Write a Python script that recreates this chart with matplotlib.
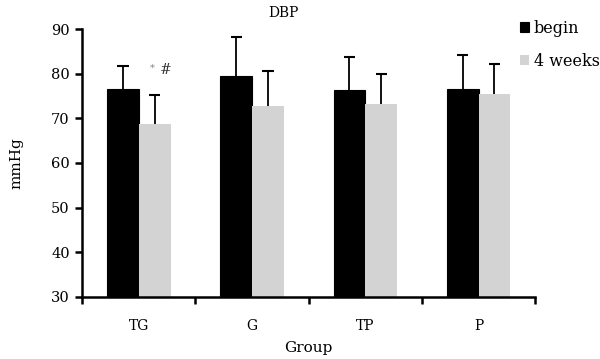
import matplotlib
matplotlib.use('Agg')
import matplotlib.pyplot as plt
import numpy as np

plt.rcParams['font.family'] = ['DejaVu Serif']

groups = ['TG', 'G', 'TP', 'P']
begin = [76.6, 79.6, 76.4, 76.5]
begin_err = [5.1, 8.7, 7.3, 7.6]
weeks4 = [68.8, 72.8, 73.2, 75.4]
weeks4_err = [6.5, 7.9, 6.8, 6.8]

fig = plt.figure(figsize=(6.0, 3.59), dpi=100)
ax = fig.add_axes([0.137, 0.173, 0.755, 0.746])

x = np.arange(len(groups))
w = 0.28
base = 30
cap = 0.05

# upper-only error bars (drawn behind bars)
for xs, vals, errs in [(x - w/2, begin, begin_err), (x + w/2, weeks4, weeks4_err)]:
    tops = np.array(vals) + np.array(errs)
    ax.vlines(xs, vals, tops, color='black', linewidth=1.3, zorder=1)
    ax.hlines(tops, xs - cap, xs + cap, color='black', linewidth=1.5, zorder=1)

ax.bar(x - w/2, np.array(begin) - base, w, bottom=base, color='black',
       edgecolor='black', linewidth=0.8, label='begin', zorder=2)
ax.bar(x + w/2, np.array(weeks4) - base, w, bottom=base, color='#d3d3d3',
       linewidth=0, label='4 weeks', zorder=2)

# significance marks over TG 4 weeks
ax.text(x[0] + w/2 - 0.02, 81.3, '*', fontsize=7, color='#888888',
        ha='center', va='center')
ax.text(x[0] + w/2 + 0.05, 80.8, '#', fontsize=10, color='#333333',
        ha='left', va='center')

ax.set_xlim(-0.5, 3.5)
ax.set_ylim(30, 90)
ax.set_yticks(range(30, 91, 10))
ax.set_xticks(x)
ax.set_xticklabels(groups)
ax.set_xticks(np.arange(-0.5, 4, 1), minor=True)
ax.tick_params(axis='x', which='major', length=0, pad=16, labelsize=10)
ax.tick_params(axis='x', which='minor', length=5, width=1.8, direction='out')
ax.tick_params(axis='y', length=5, width=1.8, direction='out', labelsize=10.5, pad=4)

for s in ['top', 'right']:
    ax.spines[s].set_visible(False)
for s in ['left', 'bottom']:
    ax.spines[s].set_linewidth(1.8)

ax.set_xlabel('Group', fontsize=11, labelpad=6)
ax.set_ylabel('mmHg', fontsize=11, labelpad=20)
fig.text(0.472, 0.965, 'DBP', ha='center', va='center', fontsize=10)

fig.legend(*ax.get_legend_handles_labels(), loc='upper left',
           bbox_to_anchor=(0.866, 0.945), frameon=False,
           fontsize=11.5, handlelength=0.6, handleheight=0.6,
           handletextpad=0.3, labelspacing=1.0, borderaxespad=0, borderpad=0)

fig.savefig('out.png', dpi=100)
